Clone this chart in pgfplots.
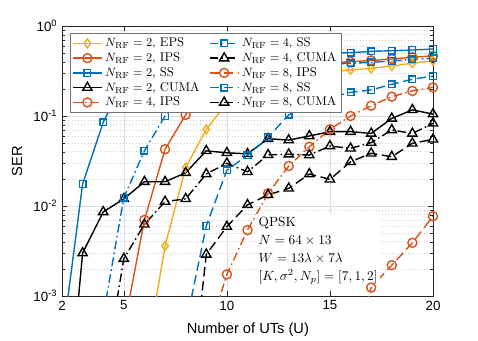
\documentclass[border=0pt]{standalone}
\usepackage{fontspec}
\usepackage{pgfplots}
\pgfplotsset{compat=1.18}
\newfontfamily\arial{Liberation Sans}
\definecolor{mblue}{rgb}{0,0.447,0.741}
\definecolor{morange}{rgb}{0.850,0.325,0.098}
\definecolor{myellow}{rgb}{0.929,0.694,0.125}

\pgfplotsset{
  ln2/.style={solid},
  ln4/.style={dash pattern=on 6.5pt off 2.5pt on 1.2pt off 2.5pt},
  ln8/.style={dash pattern=on 7pt off 3.5pt},
  eps/.style={myellow, line width=1.05pt, mark=diamond, mark size=3.3pt, mark options={solid}},
  ips/.style={morange, line width=1.05pt, mark=o, mark size=3.4pt, mark options={solid}},
  ss/.style={mblue, line width=1.05pt, mark=square, mark size=2.5pt, mark options={solid}},
  cuma/.style={black, line width=1.05pt, mark=triangle, mark size=4pt, mark options={solid}},
}

\begin{document}
\begin{tikzpicture}
\begin{axis}[
  scale only axis, width=278.25pt, height=202.5pt,
  ymode=log, xmin=2, xmax=20, ymin=1e-3, ymax=1,
  xtick={2,5,10,15,20}, xticklabels={2,5,10,15,20},
  ytick={0.001,0.01,0.1,1},
  yticklabels={10\textsuperscript{-3},10\textsuperscript{-2},10\textsuperscript{-1},10\textsuperscript{0}},
  ticklabel style={font=\arial\fontsize{10}{12}\selectfont},
  xlabel={Number of UTs (U)}, ylabel={SER},
  label style={font=\arial\fontsize{11}{13}\selectfont},
  xlabel style={at={(axis description cs:0.501,-0.126)}, anchor=center},
  ylabel style={at={(axis description cs:-0.121,0.5)}, anchor=center},
  tick align=inside, major tick length=3.5pt, minor tick length=2pt,
  axis line style={black!85}, tick style={black!85},
  grid=major, yminorgrids=true,
  major grid style={gray!25, solid, line width=0.4pt},
  minor grid style={gray!40, dotted, line width=0.5pt},
  legend columns=2,
  legend style={at={(rel axis cs:0.0216,0.974)}, anchor=north west,
    font=\fontsize{9.5}{11}\selectfont, draw=black!55, fill=white,
    inner sep=1.5pt, row sep=-1.2pt,
    /tikz/every even column/.append style={column sep=5pt}},
  legend cell align=left,
  legend image code/.code={\draw[mark repeat=2,mark phase=2,#1]
    plot coordinates {(0cm,0cm) (0.38cm,0cm) (0.76cm,0cm)};},
]
% N_RF = 2
\addplot[eps, ln2, forget plot] coordinates {
  (6,1.6e-4)(7,0.0036)(8,0.0267)(9,0.071)(10,0.14)(11,0.2)(12,0.24)(13,0.27)
  (14,0.29)(15,0.31)(16,0.325)(17,0.338)(18,0.36)(19,0.385)(20,0.41)};
\addplot[ips, ln2, forget plot] coordinates {
  (5,4.4e-4)(6,0.007)(7,0.0427)(8,0.103)(9,0.2)(10,0.28)(11,0.32)(12,0.35)
  (13,0.37)(14,0.38)(15,0.39)(16,0.40)(17,0.415)(18,0.43)(19,0.45)(20,0.465)};
\addplot[ss, ln2, forget plot] coordinates {
  (2,3e-4)(3,0.0176)(4,0.085)(5,0.25)(6,0.37)(7,0.42)(8,0.45)(9,0.46)(10,0.465)
  (11,0.47)(12,0.48)(13,0.487)(14,0.493)(15,0.5)(16,0.505)(17,0.523)(18,0.531)
  (19,0.541)(20,0.555)};
\addplot[cuma, ln2, forget plot] coordinates {
  (2,1e-5)(3,0.003)(4,0.0086)(5,0.012)(6,0.0186)(7,0.0186)(8,0.0234)(9,0.041)
  (10,0.039)(11,0.038)(12,0.056)(13,0.054)(14,0.06)(15,0.067)(16,0.067)
  (17,0.064)(18,0.094)(19,0.117)(20,0.105)};
% N_RF = 4
\addplot[ips, ln4, forget plot] coordinates {
  (9,3.2e-4)(10,0.00174)(11,0.0054)(12,0.0138)(13,0.0278)(14,0.0456)(15,0.0711)
  (16,0.1)(17,0.13)(18,0.164)(19,0.19)(20,0.208)};
\addplot[ss, ln4, forget plot] coordinates {
  (4,6e-4)(5,0.0124)(6,0.041)(7,0.1)(8,0.2)(9,0.27)(10,0.31)(11,0.33)(12,0.35)
  (13,0.36)(14,0.37)(15,0.378)(16,0.385)(17,0.395)(18,0.409)(19,0.427)(20,0.438)};
\addplot[cuma, ln4, forget plot] coordinates {
  (4,1.1e-4)(5,0.0026)(6,0.00625)(7,0.0112)(8,0.012)(9,0.0227)(10,0.0298)
  (11,0.024)(12,0.037)(13,0.0376)(14,0.0368)(15,0.0464)(16,0.0437)(17,0.0506)
  (18,0.07)(19,0.064)(20,0.083)};
% N_RF = 8
\addplot[ips, ln8, forget plot] coordinates {
  (16,2e-4)(17,0.00124)(18,0.0022)(19,0.0039)(20,0.0077)};
\addplot[ss, ln8, forget plot] coordinates {
  (8,4.7e-4)(9,0.006)(10,0.025)(11,0.0366)(12,0.058)(13,0.103)(14,0.13)(15,0.16)
  (16,0.183)(17,0.195)(18,0.225)(19,0.256)(20,0.278)};
\addplot[cuma, ln8, forget plot] coordinates {
  (8,2.3e-5)(9,0.0029)(10,0.0059)(11,0.0103)(12,0.0133)(13,0.0157)(14,0.0227)
  (15,0.0198)(16,0.031)(17,0.0385)(18,0.0353)(19,0.0497)(20,0.055)};

% legend, filled row by row so that the columns read as in the original
\addlegendimage{eps, ln2}  \addlegendentry{$N_{\mathrm{RF}}=2$, EPS}
\addlegendimage{ss, ln4}   \addlegendentry{$N_{\mathrm{RF}}=4$, SS}
\addlegendimage{ips, ln2}  \addlegendentry{$N_{\mathrm{RF}}=2$, IPS}
\addlegendimage{cuma, ln4} \addlegendentry{$N_{\mathrm{RF}}=4$, CUMA}
\addlegendimage{ss, ln2}   \addlegendentry{$N_{\mathrm{RF}}=2$, SS}
\addlegendimage{ips, ln8}  \addlegendentry{$N_{\mathrm{RF}}=8$, IPS}
\addlegendimage{cuma, ln2} \addlegendentry{$N_{\mathrm{RF}}=2$, CUMA}
\addlegendimage{ss, ln8}   \addlegendentry{$N_{\mathrm{RF}}=8$, SS}
\addlegendimage{ips, ln4}  \addlegendentry{$N_{\mathrm{RF}}=4$, IPS}
\addlegendimage{cuma, ln8} \addlegendentry{$N_{\mathrm{RF}}=8$, CUMA}

\node[fill=white, anchor=north west, align=left, inner sep=2pt,
  font=\fontsize{10}{13.5}\selectfont] at (axis cs:11.4,0.0082)
  {QPSK\\ $N=64\times 13$\\ $W=13\lambda\times 7\lambda$\\ $[K,\sigma^2,N_p]=[7,1,2]$};
\end{axis}
\pgfresetboundingbox
\path (-46.5pt,-33pt) rectangle (312pt,222pt);
\end{tikzpicture}
\end{document}
